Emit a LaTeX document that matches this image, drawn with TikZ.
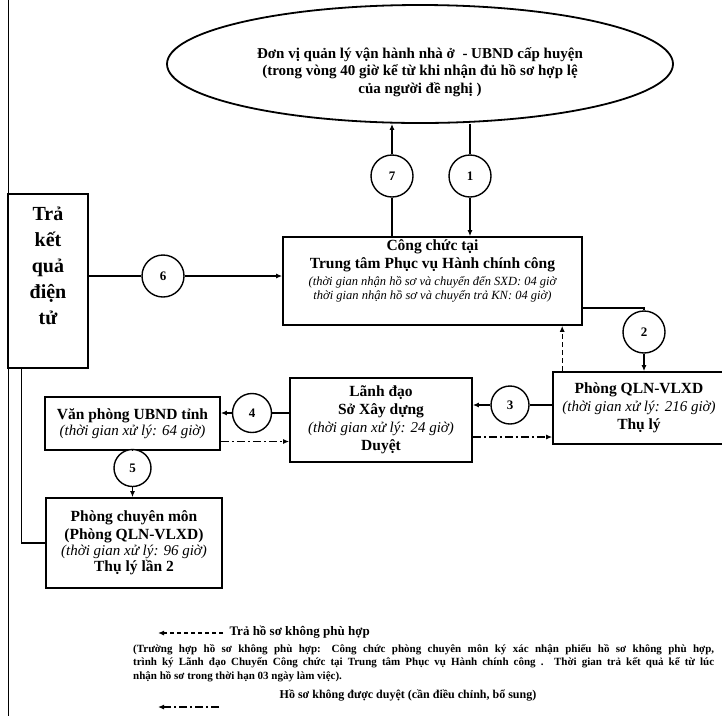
\documentclass[tikz,border=0pt]{standalone}
\usepackage{fontspec}
\setmainfont{Liberation Serif}
\usetikzlibrary{arrows.meta,shapes.geometric}

\tikzset{
  box/.style={draw, line width=1.6pt, fill=white, align=center, inner sep=2pt, font=\bfseries\fontsize{15.5}{18}\selectfont},
  num/.style={draw, circle, line width=1.4pt, fill=white, minimum size=42pt, inner sep=0pt, font=\bfseries\fontsize{13}{15}\selectfont},
  link/.style={line width=1.3pt},
  flow/.style={link, -{Latex[length=6pt,width=5pt]}},
  back/.style={flow, dash pattern=on 5pt off 3pt},
  redo/.style={flow, dash pattern=on 8pt off 3pt on 2pt off 3pt},
}
\newcommand{\tgian}[1]{{\mdseries\itshape\fontsize{15}{18}\selectfont #1}}
\newcommand{\tgnho}[1]{{\mdseries\itshape\fontsize{12.5}{14}\selectfont #1}}

\begin{document}
\begin{tikzpicture}[x=1pt, y=-1pt]
\useasboundingbox (0,0) rectangle (722,716);

% page edge
\draw[line width=0.9pt] (8,0) -- (8,716);

% Top ellipse
\node[draw, ellipse, line width=1.8pt, minimum width=506pt, minimum height=118pt, inner sep=0pt] (dv) at (420,64) {};
\node[align=center, font=\bfseries\fontsize{15}{17.5}\selectfont] (dvtext) at (420,72) {Đơn vị quản lý vận hành nhà ở\ \ - UBND cấp huyện\\(trong vòng 40 giờ kể từ khi nhận đủ hồ sơ hợp lệ\\của người đề nghị )};

% Result box
\node[box, minimum width=80pt, minimum height=174pt] (tra) at (48,281) {};
\node[align=center, font=\bfseries\fontsize{20}{26}\selectfont] (tratext) at (48,266) {Trả\\kết\\quả\\điện\\tử};

% Flow boxes
\node[box, minimum width=299pt, minimum height=88pt] (cc) at (432.5,281) {};
\node[align=center, font=\bfseries\fontsize{15.5}{18}\selectfont] (cctext) at (432.5,271) {Công chức tại\\Trung tâm Phục vụ Hành chính công\\[-1pt]\tgnho{(thời gian nhận hồ sơ và chuyển đến SXD: 04 giờ}\\[-4pt]\tgnho{thời gian nhận hồ sơ và chuyển trả KN: 04 giờ)}};
\node[box, minimum width=172pt, minimum height=72pt] (qln) at (639,408) {Phòng QLN-VLXD\\\tgian{(thời gian xử lý: 216 giờ)}\\Thụ lý};
\node[box, minimum width=182pt, minimum height=84pt] (ld) at (381,420) {Lãnh đạo\\Sở Xây dựng\\\tgian{(thời gian xử lý: 24 giờ)}\\Duyệt};
\node[box, minimum width=175pt, minimum height=53pt] (vp) at (132.5,423.5) {Văn phòng UBND tỉnh\\[-2pt]\tgian{(thời gian xử lý: 64 giờ)}};
\node[box, minimum width=176pt, minimum height=90pt] (pcm) at (134,543) {Phòng chuyên môn\\(Phòng QLN-VLXD)\\[-2pt]\tgian{(thời gian xử lý: 96 giờ)}\\[-2pt]Thụ lý lần 2};

% Numbered circles
\node[num] (c1) at (470,176) {1};
\node[num] (c2) at (644,332) {2};
\node[num, minimum size=38pt] (c3) at (510,405) {3};
\node[num, minimum size=39pt] (c4) at (252,413) {4};
\node[num, minimum size=37pt] (c5) at (132.5,468) {5};
\node[num] (c6) at (163,276) {6};
\node[num] (c7) at (392,176) {7};

% Connectors
\draw[link] (c7 |- cc.north) -- (c7);
\draw[flow] (c7) -- (c7 |- dv.south);
\draw[link] (c1 |- dv.south) -- (c1);
\draw[flow] (c1) -- (c1 |- cc.north);
\draw[link] (tra.east |- c6) -- (c6);
\draw[flow] (c6) -- (cc.west |- c6);
\draw[link] ([yshift=-27pt]cc.east) -| (c2);
\draw[flow] (c2) -- (c2 |- qln.north);
\draw[back] ([xshift=10pt]qln.north west) -- ([xshift=10pt]qln.north west |- cc.south);
\draw[link] (qln.west |- c3) -- (c3);
\draw[flow] (c3) -- (ld.east |- c3);
\draw[redo] ([yshift=-17pt]ld.east) -- ([yshift=-17pt]ld.east -| qln.west);
\draw[link] (ld.west |- c4) -- (c4);
\draw[flow] (c4) -- (vp.east |- c4);
\draw[redo] ([yshift=-18pt]vp.east) -- ([yshift=-18pt]vp.east -| ld.west);
\draw[link] (vp.south) -- (c5);
\draw[flow] (c5) -- (c5 |- pcm.north);
\draw[link] ([xshift=14pt]tra.south west) |- (pcm.west);

% Legend
\coordinate (lg1) at (158,633);
\coordinate (lg1e) at (223,633);
\draw[back, dash pattern=on 4pt off 3pt] (lg1e) -- (lg1);
\node[anchor=west, font=\bfseries\fontsize{13}{15}\selectfont] (lg1text) at (226,632) {Trả hồ sơ không phù hợp};
\node[anchor=north west, text width=581pt, align=justify, inner sep=0pt, font=\bfseries\fontsize{11}{13.5}\selectfont] (ghichu) at (133,644) {(Trường hợp hồ sơ không phù hợp: Công chức phòng chuyên môn ký xác nhận phiếu hồ sơ không phù hợp,\linebreak trình ký Lãnh đạo Chuyển Công chức tại Trung tâm Phục vụ Hành chính công . Thời gian trả kết quả kể từ lúc\linebreak nhận hồ sơ trong thời hạn 03 ngày làm việc).};
\coordinate (lg2) at (158,707);
\coordinate (lg2e) at (219,707);
\draw[redo] (lg2e) -- (lg2);
\node[font=\bfseries\fontsize{12}{14}\selectfont] (lg2text) at (408,695) {Hồ sơ không được duyệt (cần điều chỉnh, bổ sung)};

\end{tikzpicture}
\end{document}
